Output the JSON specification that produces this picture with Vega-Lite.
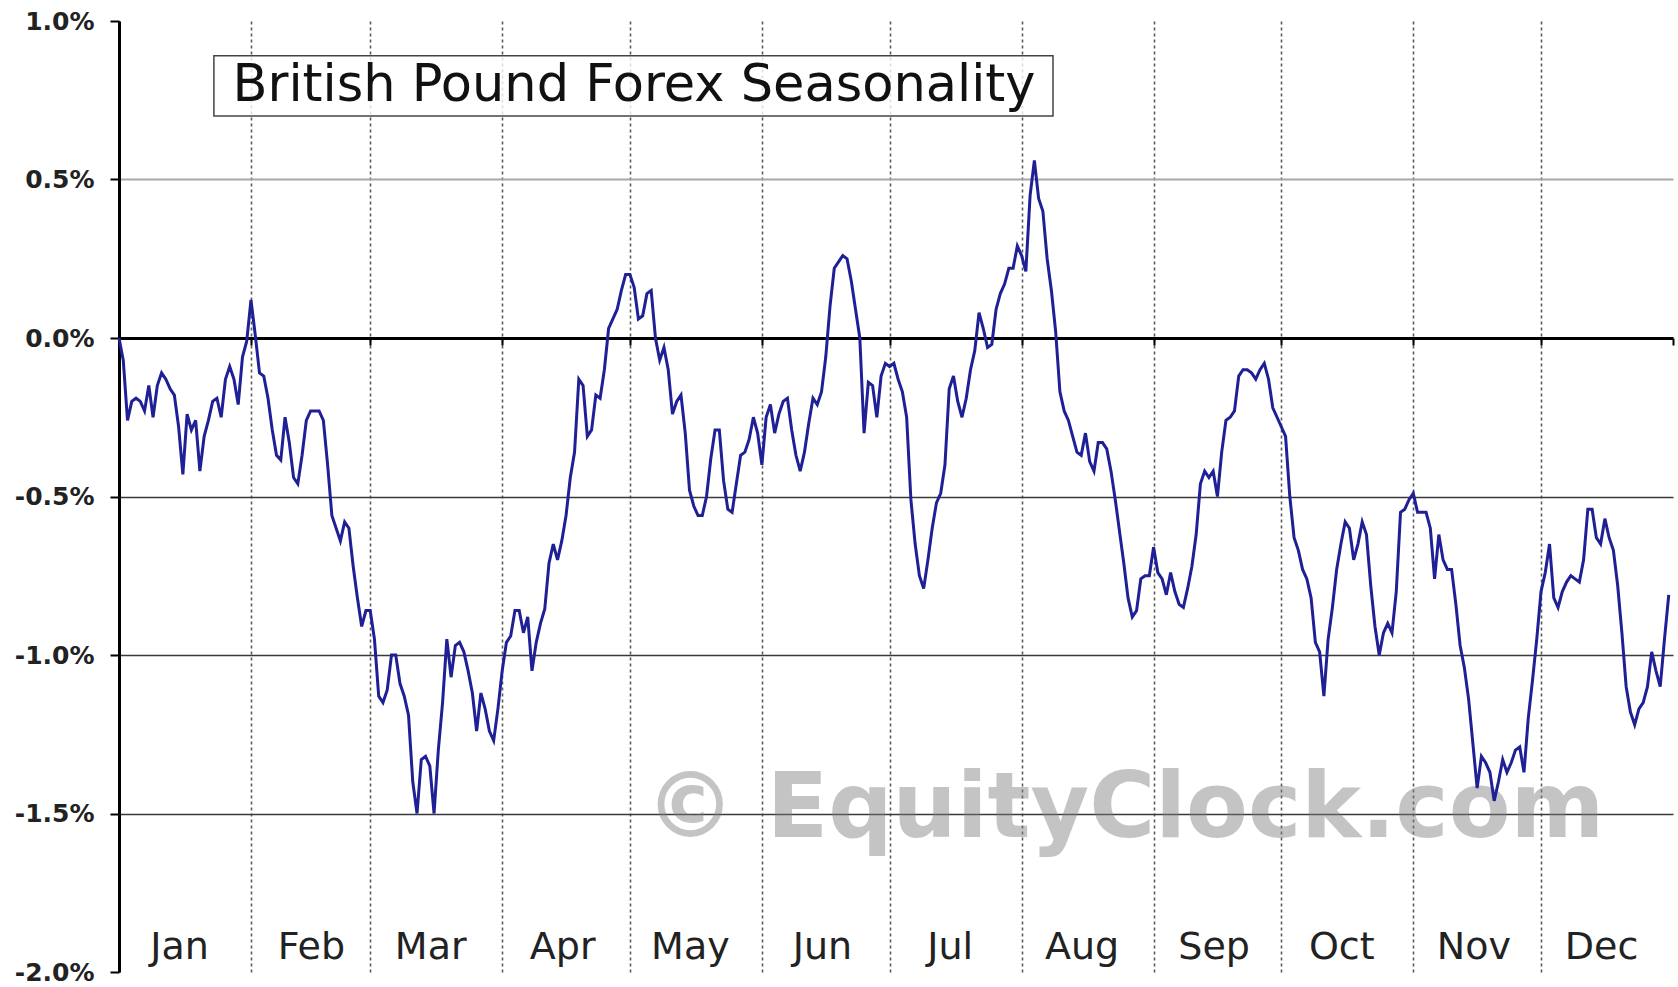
{
  "$schema": "https://vega.github.io/schema/vega-lite/v6.json",
  "width": 1554,
  "height": 951,
  "autosize": {"type": "none"},
  "padding": {"left": 119, "top": 21, "right": 5, "bottom": 15},
  "background": "white",
  "config": {"view": {"stroke": null}, "font": "DejaVu Sans"},
  "datasets": {
    "gbp": [
      {"d":"2023-01-01","v":0.00},{"d":"2023-01-02","v":-0.07},{"d":"2023-01-03","v":-0.26},{"d":"2023-01-04","v":-0.20},{"d":"2023-01-05","v":-0.19},{"d":"2023-01-06","v":-0.20},{"d":"2023-01-07","v":-0.23},{"d":"2023-01-08","v":-0.15},{"d":"2023-01-09","v":-0.25},{"d":"2023-01-10","v":-0.15},{"d":"2023-01-11","v":-0.11},{"d":"2023-01-12","v":-0.13},{"d":"2023-01-13","v":-0.16},{"d":"2023-01-14","v":-0.18},{"d":"2023-01-15","v":-0.28},{"d":"2023-01-16","v":-0.43},{"d":"2023-01-17","v":-0.24},{"d":"2023-01-18","v":-0.29},{"d":"2023-01-19","v":-0.26},{"d":"2023-01-20","v":-0.42},{"d":"2023-01-21","v":-0.31},{"d":"2023-01-22","v":-0.26},{"d":"2023-01-23","v":-0.20},{"d":"2023-01-24","v":-0.19},{"d":"2023-01-25","v":-0.25},{"d":"2023-01-26","v":-0.13},{"d":"2023-01-27","v":-0.09},{"d":"2023-01-28","v":-0.13},{"d":"2023-01-29","v":-0.21},{"d":"2023-01-30","v":-0.06},{"d":"2023-01-31","v":-0.01},
      {"d":"2023-02-01","v":0.12},{"d":"2023-02-02","v":0.01},{"d":"2023-02-03","v":-0.11},{"d":"2023-02-04","v":-0.12},{"d":"2023-02-05","v":-0.19},{"d":"2023-02-06","v":-0.29},{"d":"2023-02-07","v":-0.37},{"d":"2023-02-08","v":-0.385},{"d":"2023-02-09","v":-0.25},{"d":"2023-02-10","v":-0.33},{"d":"2023-02-11","v":-0.44},{"d":"2023-02-12","v":-0.46},{"d":"2023-02-13","v":-0.37},{"d":"2023-02-14","v":-0.26},{"d":"2023-02-15","v":-0.23},{"d":"2023-02-16","v":-0.23},{"d":"2023-02-17","v":-0.23},{"d":"2023-02-18","v":-0.26},{"d":"2023-02-19","v":-0.40},{"d":"2023-02-20","v":-0.56},{"d":"2023-02-21","v":-0.60},{"d":"2023-02-22","v":-0.64},{"d":"2023-02-23","v":-0.58},{"d":"2023-02-24","v":-0.60},{"d":"2023-02-25","v":-0.72},{"d":"2023-02-26","v":-0.82},{"d":"2023-02-27","v":-0.91},{"d":"2023-02-28","v":-0.86},
      {"d":"2023-03-01","v":-0.86},{"d":"2023-03-02","v":-0.95},{"d":"2023-03-03","v":-1.13},{"d":"2023-03-04","v":-1.15},{"d":"2023-03-05","v":-1.11},{"d":"2023-03-06","v":-1.00},{"d":"2023-03-07","v":-1.00},{"d":"2023-03-08","v":-1.09},{"d":"2023-03-09","v":-1.13},{"d":"2023-03-10","v":-1.19},{"d":"2023-03-11","v":-1.40},{"d":"2023-03-12","v":-1.50},{"d":"2023-03-13","v":-1.33},{"d":"2023-03-14","v":-1.32},{"d":"2023-03-15","v":-1.35},{"d":"2023-03-16","v":-1.50},{"d":"2023-03-17","v":-1.30},{"d":"2023-03-18","v":-1.15},{"d":"2023-03-19","v":-0.95},{"d":"2023-03-20","v":-1.07},{"d":"2023-03-21","v":-0.97},{"d":"2023-03-22","v":-0.96},{"d":"2023-03-23","v":-0.99},{"d":"2023-03-24","v":-1.05},{"d":"2023-03-25","v":-1.12},{"d":"2023-03-26","v":-1.24},{"d":"2023-03-27","v":-1.12},{"d":"2023-03-28","v":-1.17},{"d":"2023-03-29","v":-1.24},{"d":"2023-03-30","v":-1.27},{"d":"2023-03-31","v":-1.17},
      {"d":"2023-04-01","v":-1.05},{"d":"2023-04-02","v":-0.96},{"d":"2023-04-03","v":-0.94},{"d":"2023-04-04","v":-0.86},{"d":"2023-04-05","v":-0.86},{"d":"2023-04-06","v":-0.93},{"d":"2023-04-07","v":-0.88},{"d":"2023-04-08","v":-1.05},{"d":"2023-04-09","v":-0.96},{"d":"2023-04-10","v":-0.90},{"d":"2023-04-11","v":-0.855},{"d":"2023-04-12","v":-0.71},{"d":"2023-04-13","v":-0.65},{"d":"2023-04-14","v":-0.70},{"d":"2023-04-15","v":-0.64},{"d":"2023-04-16","v":-0.56},{"d":"2023-04-17","v":-0.44},{"d":"2023-04-18","v":-0.36},{"d":"2023-04-19","v":-0.13},{"d":"2023-04-20","v":-0.15},{"d":"2023-04-21","v":-0.31},{"d":"2023-04-22","v":-0.29},{"d":"2023-04-23","v":-0.18},{"d":"2023-04-24","v":-0.19},{"d":"2023-04-25","v":-0.10},{"d":"2023-04-26","v":0.03},{"d":"2023-04-27","v":0.06},{"d":"2023-04-28","v":0.09},{"d":"2023-04-29","v":0.15},{"d":"2023-04-30","v":0.20},
      {"d":"2023-05-01","v":0.20},{"d":"2023-05-02","v":0.16},{"d":"2023-05-03","v":0.06},{"d":"2023-05-04","v":0.07},{"d":"2023-05-05","v":0.14},{"d":"2023-05-06","v":0.15},{"d":"2023-05-07","v":0.00},{"d":"2023-05-08","v":-0.07},{"d":"2023-05-09","v":-0.03},{"d":"2023-05-10","v":-0.10},{"d":"2023-05-11","v":-0.24},{"d":"2023-05-12","v":-0.20},{"d":"2023-05-13","v":-0.18},{"d":"2023-05-14","v":-0.30},{"d":"2023-05-15","v":-0.48},{"d":"2023-05-16","v":-0.53},{"d":"2023-05-17","v":-0.56},{"d":"2023-05-18","v":-0.56},{"d":"2023-05-19","v":-0.50},{"d":"2023-05-20","v":-0.38},{"d":"2023-05-21","v":-0.29},{"d":"2023-05-22","v":-0.29},{"d":"2023-05-23","v":-0.45},{"d":"2023-05-24","v":-0.54},{"d":"2023-05-25","v":-0.55},{"d":"2023-05-26","v":-0.46},{"d":"2023-05-27","v":-0.37},{"d":"2023-05-28","v":-0.36},{"d":"2023-05-29","v":-0.32},{"d":"2023-05-30","v":-0.25},{"d":"2023-05-31","v":-0.30},
      {"d":"2023-06-01","v":-0.40},{"d":"2023-06-02","v":-0.25},{"d":"2023-06-03","v":-0.21},{"d":"2023-06-04","v":-0.30},{"d":"2023-06-05","v":-0.24},{"d":"2023-06-06","v":-0.20},{"d":"2023-06-07","v":-0.19},{"d":"2023-06-08","v":-0.29},{"d":"2023-06-09","v":-0.37},{"d":"2023-06-10","v":-0.42},{"d":"2023-06-11","v":-0.36},{"d":"2023-06-12","v":-0.27},{"d":"2023-06-13","v":-0.19},{"d":"2023-06-14","v":-0.21},{"d":"2023-06-15","v":-0.17},{"d":"2023-06-16","v":-0.06},{"d":"2023-06-17","v":0.10},{"d":"2023-06-18","v":0.22},{"d":"2023-06-19","v":0.24},{"d":"2023-06-20","v":0.26},{"d":"2023-06-21","v":0.25},{"d":"2023-06-22","v":0.18},{"d":"2023-06-23","v":0.09},{"d":"2023-06-24","v":0.00},{"d":"2023-06-25","v":-0.30},{"d":"2023-06-26","v":-0.14},{"d":"2023-06-27","v":-0.15},{"d":"2023-06-28","v":-0.25},{"d":"2023-06-29","v":-0.12},{"d":"2023-06-30","v":-0.08},
      {"d":"2023-07-01","v":-0.09},{"d":"2023-07-02","v":-0.08},{"d":"2023-07-03","v":-0.13},{"d":"2023-07-04","v":-0.17},{"d":"2023-07-05","v":-0.25},{"d":"2023-07-06","v":-0.51},{"d":"2023-07-07","v":-0.65},{"d":"2023-07-08","v":-0.75},{"d":"2023-07-09","v":-0.79},{"d":"2023-07-10","v":-0.70},{"d":"2023-07-11","v":-0.60},{"d":"2023-07-12","v":-0.52},{"d":"2023-07-13","v":-0.49},{"d":"2023-07-14","v":-0.40},{"d":"2023-07-15","v":-0.16},{"d":"2023-07-16","v":-0.12},{"d":"2023-07-17","v":-0.20},{"d":"2023-07-18","v":-0.25},{"d":"2023-07-19","v":-0.19},{"d":"2023-07-20","v":-0.10},{"d":"2023-07-21","v":-0.04},{"d":"2023-07-22","v":0.08},{"d":"2023-07-23","v":0.03},{"d":"2023-07-24","v":-0.03},{"d":"2023-07-25","v":-0.02},{"d":"2023-07-26","v":0.09},{"d":"2023-07-27","v":0.14},{"d":"2023-07-28","v":0.17},{"d":"2023-07-29","v":0.22},{"d":"2023-07-30","v":0.22},{"d":"2023-07-31","v":0.29},
      {"d":"2023-08-01","v":0.26},{"d":"2023-08-02","v":0.21},{"d":"2023-08-03","v":0.45},{"d":"2023-08-04","v":0.56},{"d":"2023-08-05","v":0.44},{"d":"2023-08-06","v":0.40},{"d":"2023-08-07","v":0.25},{"d":"2023-08-08","v":0.15},{"d":"2023-08-09","v":0.02},{"d":"2023-08-10","v":-0.17},{"d":"2023-08-11","v":-0.23},{"d":"2023-08-12","v":-0.26},{"d":"2023-08-13","v":-0.31},{"d":"2023-08-14","v":-0.36},{"d":"2023-08-15","v":-0.37},{"d":"2023-08-16","v":-0.30},{"d":"2023-08-17","v":-0.39},{"d":"2023-08-18","v":-0.42},{"d":"2023-08-19","v":-0.33},{"d":"2023-08-20","v":-0.33},{"d":"2023-08-21","v":-0.35},{"d":"2023-08-22","v":-0.42},{"d":"2023-08-23","v":-0.51},{"d":"2023-08-24","v":-0.61},{"d":"2023-08-25","v":-0.71},{"d":"2023-08-26","v":-0.82},{"d":"2023-08-27","v":-0.88},{"d":"2023-08-28","v":-0.86},{"d":"2023-08-29","v":-0.76},{"d":"2023-08-30","v":-0.75},{"d":"2023-08-31","v":-0.75},
      {"d":"2023-09-01","v":-0.66},{"d":"2023-09-02","v":-0.74},{"d":"2023-09-03","v":-0.76},{"d":"2023-09-04","v":-0.81},{"d":"2023-09-05","v":-0.74},{"d":"2023-09-06","v":-0.80},{"d":"2023-09-07","v":-0.84},{"d":"2023-09-08","v":-0.85},{"d":"2023-09-09","v":-0.79},{"d":"2023-09-10","v":-0.72},{"d":"2023-09-11","v":-0.62},{"d":"2023-09-12","v":-0.46},{"d":"2023-09-13","v":-0.42},{"d":"2023-09-14","v":-0.44},{"d":"2023-09-15","v":-0.42},{"d":"2023-09-16","v":-0.50},{"d":"2023-09-17","v":-0.36},{"d":"2023-09-18","v":-0.26},{"d":"2023-09-19","v":-0.25},{"d":"2023-09-20","v":-0.23},{"d":"2023-09-21","v":-0.12},{"d":"2023-09-22","v":-0.10},{"d":"2023-09-23","v":-0.10},{"d":"2023-09-24","v":-0.11},{"d":"2023-09-25","v":-0.13},{"d":"2023-09-26","v":-0.10},{"d":"2023-09-27","v":-0.08},{"d":"2023-09-28","v":-0.13},{"d":"2023-09-29","v":-0.22},{"d":"2023-09-30","v":-0.25},
      {"d":"2023-10-01","v":-0.28},{"d":"2023-10-02","v":-0.31},{"d":"2023-10-03","v":-0.50},{"d":"2023-10-04","v":-0.63},{"d":"2023-10-05","v":-0.67},{"d":"2023-10-06","v":-0.73},{"d":"2023-10-07","v":-0.76},{"d":"2023-10-08","v":-0.82},{"d":"2023-10-09","v":-0.96},{"d":"2023-10-10","v":-0.99},{"d":"2023-10-11","v":-1.13},{"d":"2023-10-12","v":-0.95},{"d":"2023-10-13","v":-0.85},{"d":"2023-10-14","v":-0.73},{"d":"2023-10-15","v":-0.65},{"d":"2023-10-16","v":-0.58},{"d":"2023-10-17","v":-0.60},{"d":"2023-10-18","v":-0.70},{"d":"2023-10-19","v":-0.65},{"d":"2023-10-20","v":-0.58},{"d":"2023-10-21","v":-0.62},{"d":"2023-10-22","v":-0.78},{"d":"2023-10-23","v":-0.91},{"d":"2023-10-24","v":-1.00},{"d":"2023-10-25","v":-0.93},{"d":"2023-10-26","v":-0.90},{"d":"2023-10-27","v":-0.93},{"d":"2023-10-28","v":-0.80},{"d":"2023-10-29","v":-0.55},{"d":"2023-10-30","v":-0.54},{"d":"2023-10-31","v":-0.51},
      {"d":"2023-11-01","v":-0.49},{"d":"2023-11-02","v":-0.55},{"d":"2023-11-03","v":-0.55},{"d":"2023-11-04","v":-0.55},{"d":"2023-11-05","v":-0.60},{"d":"2023-11-06","v":-0.76},{"d":"2023-11-07","v":-0.62},{"d":"2023-11-08","v":-0.70},{"d":"2023-11-09","v":-0.73},{"d":"2023-11-10","v":-0.73},{"d":"2023-11-11","v":-0.84},{"d":"2023-11-12","v":-0.97},{"d":"2023-11-13","v":-1.04},{"d":"2023-11-14","v":-1.14},{"d":"2023-11-15","v":-1.28},{"d":"2023-11-16","v":-1.42},{"d":"2023-11-17","v":-1.32},{"d":"2023-11-18","v":-1.34},{"d":"2023-11-19","v":-1.37},{"d":"2023-11-20","v":-1.46},{"d":"2023-11-21","v":-1.40},{"d":"2023-11-22","v":-1.33},{"d":"2023-11-23","v":-1.37},{"d":"2023-11-24","v":-1.34},{"d":"2023-11-25","v":-1.30},{"d":"2023-11-26","v":-1.29},{"d":"2023-11-27","v":-1.37},{"d":"2023-11-28","v":-1.20},{"d":"2023-11-29","v":-1.08},{"d":"2023-11-30","v":-0.95},
      {"d":"2023-12-01","v":-0.80},{"d":"2023-12-02","v":-0.74},{"d":"2023-12-03","v":-0.65},{"d":"2023-12-04","v":-0.82},{"d":"2023-12-05","v":-0.85},{"d":"2023-12-06","v":-0.80},{"d":"2023-12-07","v":-0.77},{"d":"2023-12-08","v":-0.75},{"d":"2023-12-09","v":-0.76},{"d":"2023-12-10","v":-0.77},{"d":"2023-12-11","v":-0.70},{"d":"2023-12-12","v":-0.54},{"d":"2023-12-13","v":-0.54},{"d":"2023-12-14","v":-0.63},{"d":"2023-12-15","v":-0.65},{"d":"2023-12-16","v":-0.57},{"d":"2023-12-17","v":-0.63},{"d":"2023-12-18","v":-0.67},{"d":"2023-12-19","v":-0.78},{"d":"2023-12-20","v":-0.93},{"d":"2023-12-21","v":-1.10},{"d":"2023-12-22","v":-1.18},{"d":"2023-12-23","v":-1.22},{"d":"2023-12-24","v":-1.17},{"d":"2023-12-25","v":-1.15},{"d":"2023-12-26","v":-1.10},{"d":"2023-12-27","v":-0.99},{"d":"2023-12-28","v":-1.05},{"d":"2023-12-29","v":-1.10},{"d":"2023-12-30","v":-0.95},{"d":"2023-12-31","v":-0.81}
    ]
  },
  "layer": [
    {
      "data": {"values": [{}]},
      "mark": {"type": "text", "font": "DejaVu Sans", "fontWeight": "bold", "fontSize": 90, "color": "#7e7e7e", "opacity": 0.45, "align": "center", "baseline": "middle"},
      "encoding": {
        "x": {"datum": {"year": 2023, "month": 8, "date": 25, "hours": 6, "utc": true}, "type": "temporal", "scale": {"type": "utc"}},
        "y": {"datum": -1.49, "type": "quantitative"},
        "text": {"value": "© EquityClock.com"}
      }
    },
    {
      "data": {"name": "gbp"},
      "mark": {"type": "line", "color": "#1f1f96", "strokeWidth": 3, "interpolate": "linear"},
      "encoding": {
        "x": {
          "field": "d", "type": "temporal",
          "scale": {"type": "utc", "domain": [{"year": 2023, "month": 1, "date": 1, "utc": true}, {"year": 2024, "month": 1, "date": 1, "utc": true}], "nice": false},
          "axis": {
            "title": null,
            "orient": "bottom",
            "offset": -634,
            "values": [
              {"year": 2023, "month": 1, "date": 1, "utc": true},
              {"year": 2023, "month": 2, "date": 1, "utc": true},
              {"year": 2023, "month": 3, "date": 1, "utc": true},
              {"year": 2023, "month": 4, "date": 1, "utc": true},
              {"year": 2023, "month": 5, "date": 1, "utc": true},
              {"year": 2023, "month": 6, "date": 1, "utc": true},
              {"year": 2023, "month": 7, "date": 1, "utc": true},
              {"year": 2023, "month": 8, "date": 1, "utc": true},
              {"year": 2023, "month": 9, "date": 1, "utc": true},
              {"year": 2023, "month": 10, "date": 1, "utc": true},
              {"year": 2023, "month": 11, "date": 1, "utc": true},
              {"year": 2023, "month": 12, "date": 1, "utc": true},
              {"year": 2024, "month": 1, "date": 1, "utc": true}
            ],
            "domainColor": "#000",
            "domainWidth": 3,
            "tickColor": "#000",
            "tickSize": 7,
            "tickWidth": 2,
            "grid": true,
            "gridColor": "#5a5a5a",
            "gridDash": [3, 3],
            "gridWidth": 1.6,
            "gridOpacity": {"condition": {"test": "utcyear(datum.value) > 2023", "value": 0}, "value": 1},
            "labelExpr": "utcyear(datum.value) > 2023 ? '' : utcFormat(datum.value, '%b')",
            "labelFont": "DejaVu Sans",
            "labelFontSize": 38,
            "labelColor": "#222",
            "labelAlign": "center",
            "labelBaseline": "middle",
            "labelOffset": 60,
            "labelPadding": 602,
            "labelFlush": false,
            "labelOverlap": false,
            "labelBound": false
          }
        },
        "y": {
          "field": "v", "type": "quantitative",
          "scale": {"domain": [-2, 1], "nice": false, "zero": false},
          "axis": {
            "title": null,
            "values": [-2, -1.5, -1, -0.5, 0, 0.5, 1],
            "domainColor": "#000",
            "domainWidth": 3,
            "tickColor": "#000",
            "tickSize": 9,
            "tickWidth": 2,
            "grid": true,
            "gridColor": {"condition": {"test": "datum.value > 0.2", "value": "#a8a8a8"}, "value": "#3a3a3a"},
            "gridWidth": {"condition": {"test": "datum.value > 0.2", "value": 2}, "value": 1.4},
            "gridOpacity": {"condition": {"test": "datum.value > 0.9 || datum.value < -1.9 || datum.value == 0", "value": 0}, "value": 1},
            "labelExpr": "(datum.value < 0 ? '-' : '') + format(abs(datum.value), '.1f') + '%'",
            "labelFont": "DejaVu Sans",
            "labelFontSize": 25,
            "labelFontWeight": "bold",
            "labelColor": "#222",
            "labelPadding": 16,
            "labelFlush": false,
            "labelOverlap": false
          }
        }
      }
    },
    {
      "data": {"values": [{}]},
      "mark": {"type": "rect", "fill": "white", "fillOpacity": 0.8, "stroke": "#444", "strokeWidth": 1.5},
      "encoding": {
        "x": {"datum": {"year": 2023, "month": 1, "date": 23, "hours": 7, "utc": true}, "type": "temporal", "scale": {"type": "utc"}},
        "x2": {"datum": {"year": 2023, "month": 8, "date": 8, "hours": 9, "utc": true}},
        "y": {"datum": 0.89, "type": "quantitative"},
        "y2": {"datum": 0.70}
      }
    },
    {
      "data": {"values": [{}]},
      "mark": {"type": "text", "font": "DejaVu Sans", "fontSize": 51, "color": "#111", "align": "center", "baseline": "middle"},
      "encoding": {
        "x": {"datum": {"year": 2023, "month": 5, "date": 1, "hours": 23, "utc": true}, "type": "temporal", "scale": {"type": "utc"}},
        "y": {"datum": 0.795, "type": "quantitative"},
        "text": {"value": "British Pound Forex Seasonality"}
      }
    }
  ]
}
